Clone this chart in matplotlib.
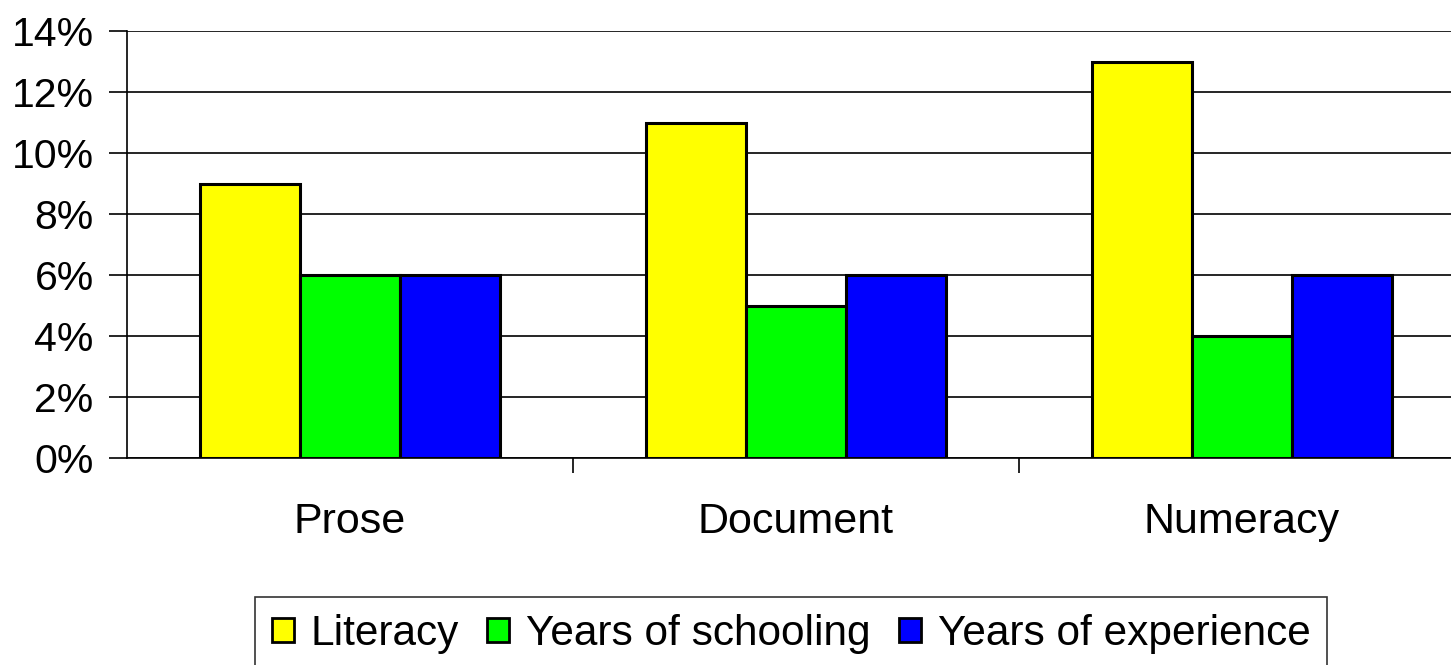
import numpy as np
import matplotlib.pyplot as plt
from matplotlib.ticker import PercentFormatter

# ── Data ──────────────────────────────────────────────────────────────────────
categories = ['Prose', 'Document', 'Numeracy']
series_names = ['Literacy', 'Years of schooling', 'Years of experience']
literacy = [9, 11, 13]
schooling = [6, 5, 4]
experience = [6, 6, 6]
colors = ['#FFFF00', '#00FF00', '#0000FF']

plt.rcParams['font.family'] = ['Liberation Sans', 'DejaVu Sans']

# ── Figure ────────────────────────────────────────────────────────────────────
W, H = 1451, 665
fig = plt.figure(figsize=(W / 100, H / 100), dpi=100)
ax = fig.add_axes([127 / W, 1 - 458 / H, 1338 / W, (458 - 31) / H])

x = np.arange(len(categories))
bw = 0.224
for i, (vals, name, c) in enumerate(zip([literacy, schooling, experience], series_names, colors)):
    ax.bar(x + (i - 1) * bw, vals, bw, color=c, edgecolor='black', linewidth=2.2,
           label=name, zorder=3)

ax.set_xlim(-0.5, 2.5)
ax.set_ylim(0, 14)
ax.set_yticks(range(0, 15, 2))
ax.yaxis.set_major_formatter(PercentFormatter(decimals=0))
ax.grid(axis='y', color='black', linewidth=1.2, zorder=0)

ax.set_xticks(x)
ax.set_xticklabels(categories)
ax.set_xticks([0.5, 1.5, 2.5], minor=True)
ax.tick_params(axis='x', which='major', length=0, pad=32, labelsize=31)
ax.tick_params(axis='x', which='minor', length=11, width=1.2, direction='out')
ax.tick_params(axis='y', length=13, width=1.2, direction='out', labelsize=29.5, pad=11)

for s in ['top', 'right']:
    ax.spines[s].set_visible(False)
ax.spines['left'].set_linewidth(1.2)
ax.spines['bottom'].set_linewidth(1.2)

leg = fig.legend(loc='upper left', bbox_to_anchor=(255 / W, 1 - 597 / H), ncol=3,
                 fontsize=30.5, frameon=True, fancybox=False, edgecolor='black',
                 handlelength=0.52, handleheight=0.52, handletextpad=0.4,
                 columnspacing=0.66, borderpad=0.4, borderaxespad=0)
leg.get_frame().set_linewidth(1.2)
for p in leg.get_patches():
    p.set_linewidth(2)

fig.savefig('out.png', dpi=100)
